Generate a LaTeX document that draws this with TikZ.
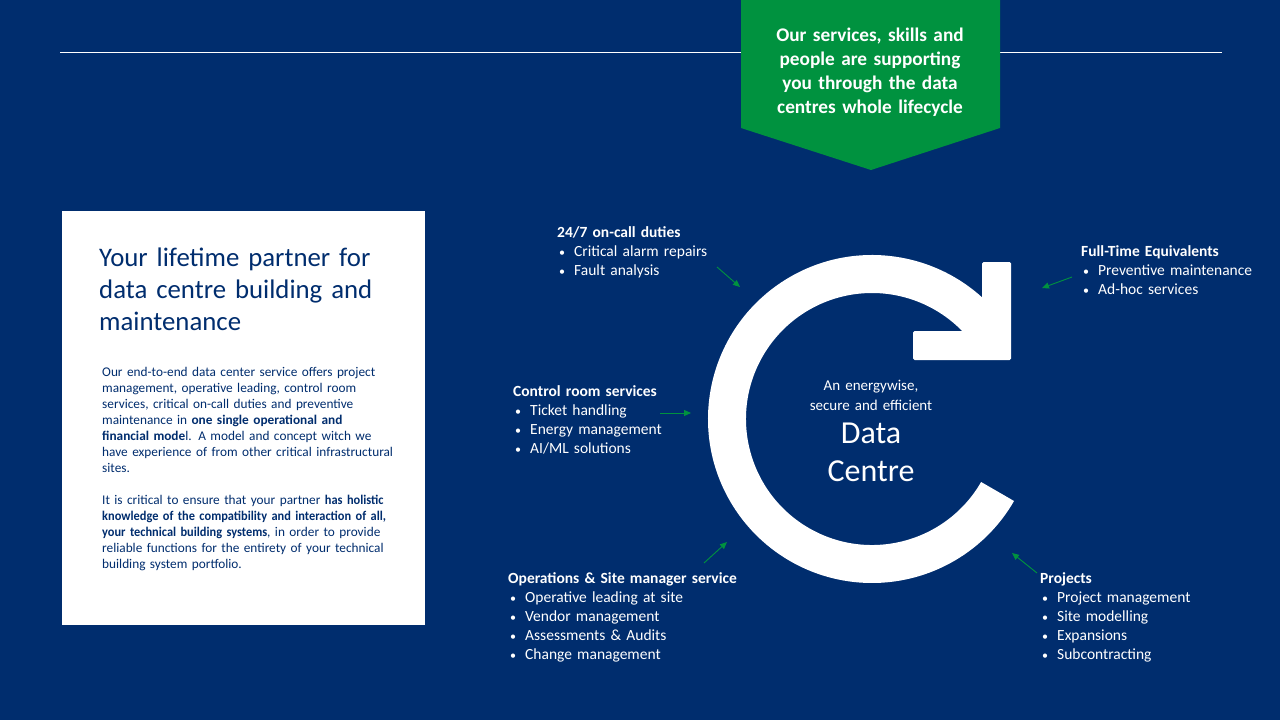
\documentclass[tikz,border=0pt]{standalone}
\usepackage{fontspec}
\setmainfont{Carlito}
\usetikzlibrary{arrows.meta}
\definecolor{navy}{RGB}{0,45,110}
\definecolor{grn}{RGB}{0,146,63}
\begin{document}
\begin{tikzpicture}[x=1pt,y=-1pt,
  lab/.style={anchor=base west, inner sep=0pt, text=white, align=left, text width=300pt, font=\fontsize{15.5}{19}\selectfont},
  para/.style={anchor=base west, inner sep=0pt, text=navy, align=left, text width=320pt, font=\fontsize{13.3}{16}\selectfont},
  ptr/.style={draw=grn, line width=0.9pt, -{Triangle[length=7pt,width=6pt]}}]
\newcommand\bul{\hspace*{2pt}\makebox[15pt][l]{\fontsize{12}{12}\selectfont•}}
\newcommand\cbold[1]{{\bfseries\addfontfeature{FakeStretch=0.93}#1}}
% background
\fill[navy] (0,0) rectangle (1280,720);
\useasboundingbox (0,0) rectangle (1280,720);
% top rule
\coordinate (ruleL) at (60,52);
\coordinate (ruleR) at (1222,52);
\draw[white, line width=0.8pt] (ruleL) -- (ruleR);
% green banner
\fill[grn] (741,0) -- (1000,0) -- (1000,128) -- (871,170) -- (741,128) -- cycle;
\node[anchor=base, inner sep=0pt, text=white, align=center, text width=250pt, font=\fontsize{19.3}{24.3}\selectfont\bfseries] (banner) at (870,41)
  {Our services, skills and\\people are supporting\\you through the data\\centres whole lifecycle};
% white box
\fill[white] (62,211) rectangle (425,625);
\node[anchor=base west, inner sep=0pt, text=navy, align=left, text width=320pt, font=\fontsize{26.8}{32}\selectfont] (title) at (99,266)
  {Your lifetime partner for\\data centre building and\\maintenance};
\node[para] (p1) at (102,376)
  {Our end-to-end data center service offers project\\
   management, operative leading, control room\\
   services, critical on-call duties and preventive\\
   maintenance in \textbf{one single operational and}\\
   \textbf{financial mode}l. A model and concept witch we\\
   have experience of from other critical infrastructural\\
   sites.};
\node[para] (p2) at (102,504)
  {It is critical to ensure that your partner \cbold{has holistic}\\
   \cbold{knowledge of the compatibility and interaction of all,}\\
   \cbold{your technical building systems}, in order to provide\\
   reliable functions for the entirety of your technical\\
   building system portfolio.};
% ring arrow
\begin{scope}[shift={(872,419)}, y=1pt]
  \fill[white] (35:164) arc[start angle=35, end angle=330, radius=164]
     -- (330:126) arc[start angle=330, end angle=35, radius=126] -- cycle;
  \fill[white, rounded corners=1.5pt] (110,157) -- (139,157) -- (139,59) -- (41,59) -- (41,88) -- (110,88) -- cycle;
\end{scope}
% centre text
\node[anchor=base, inner sep=0pt, text=white, align=center, text width=200pt, font=\fontsize{15}{20}\selectfont] (c1) at (871,390)
  {An energywise,\\secure and efficient};
\node[anchor=base, inner sep=0pt, text=white, align=center, text width=200pt, font=\fontsize{32}{38}\selectfont] (c2) at (871,443)
  {Data\\Centre};
% labels
\node[lab] (oncall) at (557,237)
  {\textbf{24/7 on-call duties}\\ \bul Critical alarm repairs\\ \bul Fault analysis};
\node[lab] (fte) at (1081,256)
  {\textbf{Full-Time Equivalents}\\ \bul Preventive maintenance\\ \bul Ad-hoc services};
\node[lab] (ctrl) at (513,396)
  {\textbf{Control room services}\\ \bul Ticket handling\\ \bul Energy management\\ \bul AI/ML solutions};
\node[lab] (ops) at (508,583)
  {\textbf{Operations \& Site manager service}\\ \bul Operative leading at site\\ \bul Vendor management\\ \bul Assessments \& Audits\\ \bul Change management};
\node[lab] (proj) at (1040,583)
  {\textbf{Projects}\\ \bul Project management\\ \bul Site modelling\\ \bul Expansions\\ \bul Subcontracting};
% green pointers
\coordinate (a1s) at (717,267); \coordinate (a1e) at (740,287);
\coordinate (a2s) at (1072,277); \coordinate (a2e) at (1042,288);
\coordinate (a3s) at (660,413); \coordinate (a3e) at (691,413);
\coordinate (a4s) at (704,563); \coordinate (a4e) at (727,542);
\coordinate (a5s) at (1037,573); \coordinate (a5e) at (1012,553);
\draw[ptr] (a1s) -- (a1e);
\draw[ptr] (a2s) -- (a2e);
\draw[ptr] (a3s) -- (a3e);
\draw[ptr] (a4s) -- (a4e);
\draw[ptr] (a5s) -- (a5e);
\end{tikzpicture}
\end{document}
